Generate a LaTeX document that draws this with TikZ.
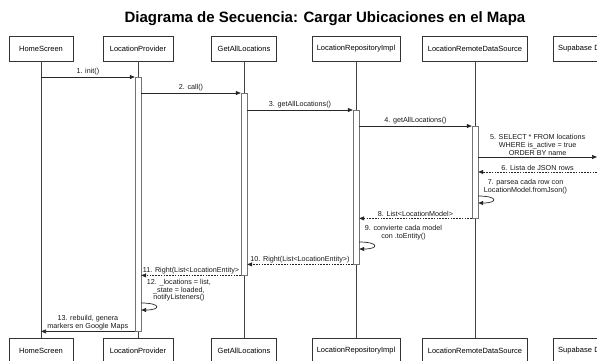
\documentclass[tikz,border=0pt]{standalone}
\usepackage{fontspec}
\setmainfont{Liberation Sans}
\usetikzlibrary{arrows.meta}

\begin{document}
\begin{tikzpicture}[x=1pt,y=-1pt]
\tikzset{obj/.style={draw=black!80,fill=white,minimum height=25pt,inner xsep=5pt,font=\fontsize{7.5}{9}\selectfont},
act/.style={draw=black!55,fill=white,minimum width=6pt,inner sep=0pt,anchor=north},
life/.style={draw=black!75,line width=0.9pt},
msg/.style={draw=black!85,line width=0.7pt,-{Triangle[length=5pt,width=4pt]}},
ret/.style={msg,dash pattern=on 1.6pt off 1.2pt},
lbl/.style={font=\fontsize{7.2}{8}\selectfont,inner sep=1.5pt,align=center,text=black!90}}
\useasboundingbox (0,0) rectangle (597,360);

\node[font=\bfseries\fontsize{15}{18}\selectfont] (title) at (325,19) {Diagrama de Secuencia: Cargar Ubicaciones en el Mapa};

% participants
\node[obj,minimum width=64pt] (hsT) at (41,48.5) {HomeScreen};
\node[obj,minimum width=70pt] (lpT) at (138,48.5) {LocationProvider};
\node[obj,minimum width=65pt] (galT) at (244,48.5) {GetAllLocations};
\node[obj,minimum width=87pt] (lriT) at (356,48.5) {LocationRepositoryImpl};
\node[obj,minimum width=105pt] (lrdsT) at (475,48.5) {LocationRemoteDataSource};
\node[obj,anchor=west,text width=84pt,align=left] (sbT) at (553,48.5) {Supabase Database};
\node[obj,minimum width=64pt] (hsB) at (41,350.5) {HomeScreen};
\node[obj,minimum width=70pt] (lpB) at (138,350.5) {LocationProvider};
\node[obj,minimum width=65pt] (galB) at (244,350.5) {GetAllLocations};
\node[obj,minimum width=87pt] (lriB) at (356,350.5) {LocationRepositoryImpl};
\node[obj,minimum width=105pt] (lrdsB) at (475,350.5) {LocationRemoteDataSource};
\node[obj,anchor=west,text width=84pt,align=left] (sbB) at (553,350.5) {Supabase Database};

\foreach \p in {hs,lp,gal,lri,lrds,sb}
  \draw[life] (\p T) -- (\p B);

% activations
\node[act,minimum height=254pt] (actLP) at (138,77) {};
\node[act,minimum height=182pt] (actGAL) at (244,93) {};
\node[act,minimum height=154pt] (actLRI) at (356,110) {};
\node[act,minimum height=92pt] (actLRDS) at (475,126) {};

\coordinate (sb5) at (597,157);
\coordinate (sb6) at (597,172);
\coordinate (s7) at (actLRDS.east |- 0,196);
\coordinate (e7) at (actLRDS.east |- 0,203);
\coordinate (s9) at (actLRI.east |- 0,242);
\coordinate (e9) at (actLRI.east |- 0,249);
\coordinate (s12) at (actLP.east |- 0,303);
\coordinate (e12) at (actLP.east |- 0,310);

% messages
\draw[msg] (hsT |- actLP.north) -- node[lbl,above] (l1) {1. init()} (actLP.north west);
\draw[msg] (actLP.east |- actGAL.north) -- node[lbl,above] (l2) {2. call()} (actGAL.north west);
\draw[msg] (actGAL.east |- actLRI.north) -- node[lbl,above] (l3) {3. getAllLocations()} (actLRI.north west);
\draw[msg] (actLRI.east |- actLRDS.north) -- node[lbl,above] (l4) {4. getAllLocations()} (actLRDS.north west);
\draw[msg] (actLRDS.east |- sb5) -- node[lbl,above] (l5) {5. SELECT * FROM locations\\WHERE is\_active = true\\ORDER BY name} (sb5);
\draw[ret] (sb6) -- node[lbl,above] (l6) {6. Lista de JSON rows} (actLRDS.east |- sb6);
\draw[msg] (s7) .. controls +(20,0) and +(20,0) .. (e7);
\node[lbl,anchor=south west,xshift=4pt] (l7) at (s7) {7. parsea cada row con\\LocationModel.fromJson()};
\draw[ret] (actLRDS.south west) -- node[lbl,above] (l8) {8. List<LocationModel>} (actLRI.east |- actLRDS.south);
\draw[msg] (s9) .. controls +(20,0) and +(20,0) .. (e9);
\node[lbl,anchor=south west,xshift=4pt] (l9) at (s9) {9. convierte cada model\\con .toEntity()};
\draw[ret] (actLRI.south west) -- node[lbl,above] (l10) {10. Right(List<LocationEntity>)} (actGAL.east |- actLRI.south);
\draw[ret] (actGAL.south west) -- node[lbl,above] (l11) {11. Right(List<LocationEntity>} (actLP.east |- actGAL.south);
\draw[msg] (s12) .. controls +(20,0) and +(20,0) .. (e12);
\node[lbl,anchor=south west,xshift=4pt,font=\fontsize{7.2}{7.5}\selectfont] (l12) at (s12) {12. \_locations = list,\\\_state = loaded,\\notifyListeners()};
\draw[msg] (actLP.south west) -- node[lbl,above] (l13) {13. rebuild, genera\\markers en Google Maps} (hsT |- actLP.south);
\end{tikzpicture}
\end{document}
